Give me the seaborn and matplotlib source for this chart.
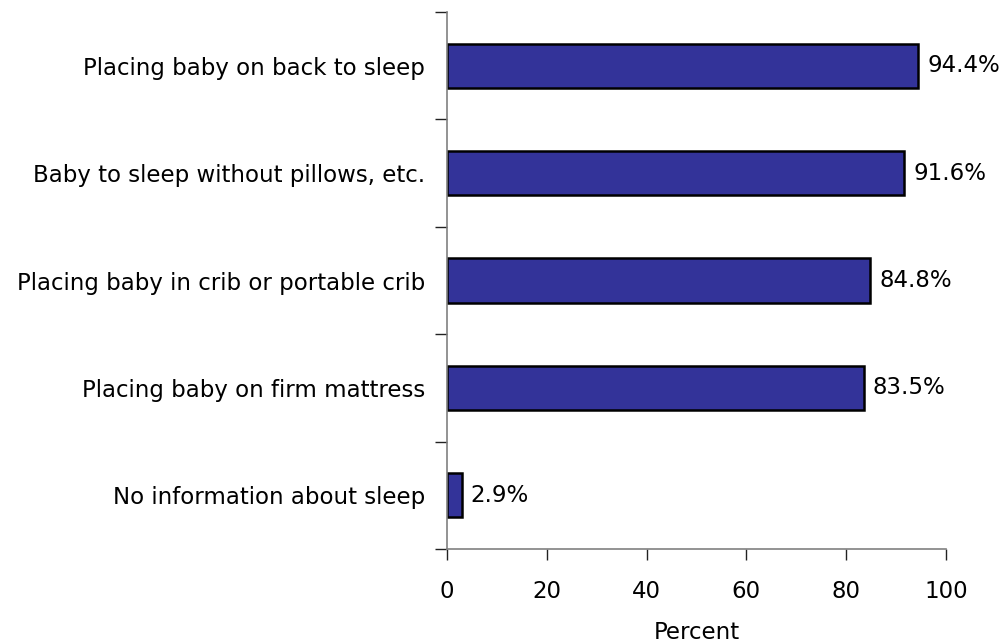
import matplotlib
matplotlib.use("Agg")
import matplotlib.pyplot as plt
from matplotlib.ticker import FixedLocator
import seaborn as sns
import pandas as pd

categories = [
    "Placing baby on back to sleep",
    "Baby to sleep without pillows, etc.",
    "Placing baby in crib or portable crib",
    "Placing baby on firm mattress",
    "No information about sleep",
]
values = [94.4, 91.6, 84.8, 83.5, 2.9]
x_ticks = [0, 20, 40, 60, 80, 100]

df = pd.DataFrame({"category": categories, "percent": values})

sns.set_style("white")
plt.rcParams["font.family"] = ["DejaVu Sans"]
plt.rcParams["text.color"] = "black"
plt.rcParams["axes.labelcolor"] = "black"
plt.rcParams["xtick.color"] = "black"
plt.rcParams["ytick.color"] = "black"

FS = 16.5

fig = plt.figure(figsize=(10.08, 6.43), dpi=100)
ax = fig.add_axes([0.4435, 0.1462, 0.495, 0.8351])

sns.barplot(data=df, x="percent", y="category", orient="h", ax=ax,
            color="#333399", width=0.41, edgecolor="black", linewidth=1.8,
            saturation=1)

ax.set_xlim(0, 100)
ax.set_ylim(len(categories) - 0.5, -0.5)
ax.set_xticks(x_ticks)
ax.set_xticklabels([str(t) for t in x_ticks], fontsize=FS)
ax.set_xlabel("Percent", fontsize=FS, labelpad=13.5)
ax.set_ylabel("")

# category labels sit at band centres; tick marks sit at band boundaries
ax.tick_params(axis="y", which="major", left=False, length=0, pad=16, labelsize=FS)
ax.yaxis.set_minor_locator(FixedLocator([i - 0.5 for i in range(len(categories) + 1)]))
ax.tick_params(axis="y", which="minor", left=True, length=9, width=1,
               color="#222222", direction="out")
ax.tick_params(axis="x", which="major", bottom=True, length=8, width=1,
               color="#222222", direction="out", pad=14)

for side in ["top", "right"]:
    ax.spines[side].set_visible(False)
for side in ["left", "bottom"]:
    ax.spines[side].set_color("#808080")
    ax.spines[side].set_linewidth(1.2)

for i, v in enumerate(values):
    ax.annotate(f"{v:.1f}%", xy=(v, i), xytext=(6.5, 0), textcoords="offset points",
                va="center", ha="left", fontsize=FS, color="black")

fig.savefig("out.png", dpi=100)
